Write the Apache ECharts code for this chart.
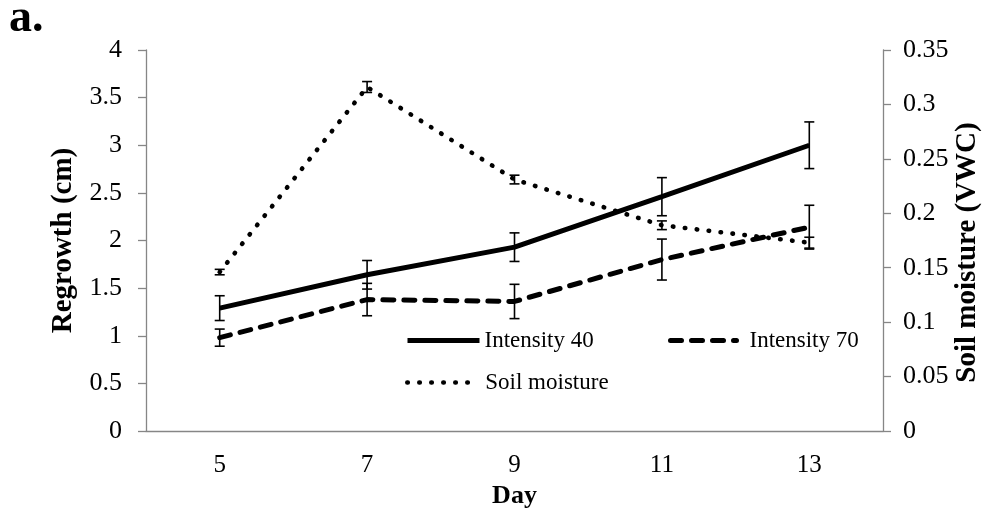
<!DOCTYPE html>
<html>
<head>
<meta charset="utf-8">
<script src="https://cdn.jsdelivr.net/npm/echarts@6/dist/echarts.min.js"></script>
<style>
html,body{margin:0;padding:0;background:#fff;}
#chart{width:990px;height:512px;}
</style>
</head>
<body>
<div id="chart"></div>
<script>
// ---- data ----
const days = ['5', '7', '9', '11', '13'];
const int40 = [1.29, 1.64, 1.93, 2.46, 3.0];
const int40Err = [0.13, 0.15, 0.15, 0.2, 0.245];
const int70 = [0.98, 1.38, 1.36, 1.80, 2.14];
const int70Err = [0.09, 0.17, 0.18, 0.215, 0.23];
const soil = [0.146, 0.316, 0.231, 0.189, 0.173];
const soilErr = [0.0025, 0.005, 0.004, 0.004, 0.005];

const FONT = 'Liberation Serif';

function errData(m, e) {
  return m.map((v, i) => [i, v - e[i], v + e[i]]);
}
function errRender(params, api) {
  const x = api.value(0);
  const lo = api.coord([x, api.value(1)]);
  const hi = api.coord([x, api.value(2)]);
  const w = 5;
  const st = { stroke: '#000', lineWidth: 1.6 };
  return {
    type: 'group',
    children: [
      { type: 'line', shape: { x1: lo[0], y1: lo[1], x2: hi[0], y2: hi[1] }, style: st },
      { type: 'line', shape: { x1: lo[0] - w, y1: lo[1], x2: lo[0] + w, y2: lo[1] }, style: st },
      { type: 'line', shape: { x1: hi[0] - w, y1: hi[1], x2: hi[0] + w, y2: hi[1] }, style: st }
    ]
  };
}

const chart = echarts.init(document.getElementById('chart'), null, { renderer: 'canvas' });
const axisLineStyle = { color: '#868686', width: 1.3 };
const DOT = [0.5, 11.5];
const DASH = [11, 10];
const legendText = { fontFamily: FONT, fontSize: 23, color: '#000' };
const option = {
  backgroundColor: '#fff',
  animation: false,
  textStyle: { fontFamily: FONT, color: '#000' },
  grid: { left: 146, right: 107, top: 50, bottom: 81, containLabel: false, outerBoundsMode: 'none' },
  graphic: [
    { type: 'text', left: 9, top: -4, style: { text: 'a.', font: 'bold 46px "Liberation Serif"', fill: '#000' } }
  ],
  legend: [
    {
      data: ['Intensity 40'], padding: 0,
      left: 405, top: 329, itemWidth: 72, itemHeight: 14,
      itemStyle: { opacity: 0 },
      lineStyle: { width: 5, color: '#000' },
      textStyle: Object.assign({ padding: [0, 0, 0, 0] }, legendText)
    },
    {
      data: ['Intensity 70'], padding: 0,
      left: 668, top: 329, itemWidth: 66, itemHeight: 14,
      itemStyle: { opacity: 0 },
      lineStyle: { width: 5, color: '#000', cap: 'round' },
      textStyle: Object.assign({ padding: [0, 0, 0, 8] }, legendText)
    },
    {
      data: ['Soil moisture'], padding: 0,
      left: 405, top: 371, itemWidth: 66, itemHeight: 14,
      itemStyle: { opacity: 0 },
      lineStyle: { width: 4.6, color: '#000', type: DOT, cap: 'round' },
      textStyle: Object.assign({ padding: [0, 0, 0, 7] }, legendText)
    }
  ],
  xAxis: {
    type: 'category', data: days, boundaryGap: true,
    name: 'Day', nameLocation: 'middle', nameGap: 52, nameMoveOverlap: false,
    nameTextStyle: { fontFamily: FONT, fontSize: 26, fontWeight: 'bold', color: '#000' },
    axisLine: { lineStyle: axisLineStyle },
    axisTick: { show: false },
    axisLabel: { fontFamily: FONT, fontSize: 25, color: '#000', margin: 22 },
    splitLine: { show: false }
  },
  yAxis: [
    {
      type: 'value', min: 0, max: 4, interval: 0.5, position: 'left',
      name: 'Regrowth (cm)', nameLocation: 'middle', nameGap: 68, nameMoveOverlap: false,
      nameTextStyle: { fontFamily: FONT, fontSize: 29, fontWeight: 'bold', color: '#000' },
      axisLine: { show: true, lineStyle: axisLineStyle },
      axisTick: { show: true, length: 8, lineStyle: axisLineStyle },
      axisLabel: { fontFamily: FONT, fontSize: 26, color: '#000', margin: 24 },
      splitLine: { show: false }
    },
    {
      type: 'value', min: 0, max: 0.35, interval: 0.05, position: 'right',
      name: 'Soil moisture (VWC)', nameLocation: 'middle', nameGap: 70, nameMoveOverlap: false,
      nameTextStyle: { fontFamily: FONT, fontSize: 29, fontWeight: 'bold', color: '#000', padding: [0, 24, 0, 0] },
      axisLine: { show: true, lineStyle: axisLineStyle },
      axisTick: { show: true, length: 8, lineStyle: axisLineStyle },
      axisLabel: { fontFamily: FONT, fontSize: 26, color: '#000', margin: 20,
        formatter: v => String(+v.toFixed(2)) },
      splitLine: { show: false }
    }
  ],
  series: [
    {
      name: 'Intensity 40', type: 'line', data: int40, yAxisIndex: 0,
      symbol: 'none', lineStyle: { color: '#000', width: 5 }, itemStyle: { color: '#000' }, z: 3
    },
    {
      name: 'Intensity 70', type: 'line', data: int70, yAxisIndex: 0,
      symbol: 'none', lineStyle: { color: '#000', width: 5, type: DASH, cap: 'round' }, itemStyle: { color: '#000' }, z: 3
    },
    {
      name: 'Soil moisture', type: 'line', data: soil, yAxisIndex: 1,
      symbol: 'none', lineStyle: { color: '#000', width: 4.6, type: DOT, cap: 'round' }, itemStyle: { color: '#000' }, z: 3
    },
    { type: 'custom', yAxisIndex: 0, data: errData(int40, int40Err), renderItem: errRender, encode: { x: 0, y: [1, 2] }, z: 4 },
    { type: 'custom', yAxisIndex: 0, data: errData(int70, int70Err), renderItem: errRender, encode: { x: 0, y: [1, 2] }, z: 4 },
    { type: 'custom', yAxisIndex: 1, data: errData(soil, soilErr), renderItem: errRender, encode: { x: 0, y: [1, 2] }, z: 4 }
  ]
};
chart.setOption(option);
</script>
</body>
</html>
